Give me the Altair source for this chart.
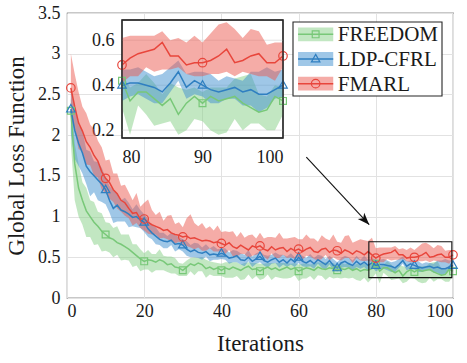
import altair as alt
import pandas as pd

# ---------------- data ----------------
iters = list(range(1, 101))
series = ["FREEDOM", "LDP-CFRL", "FMARL"]

fmarl_mean = [2.58, 2.35, 2.15, 2.05, 1.92, 1.85, 1.75, 1.68, 1.55, 1.47,
              1.42, 1.33, 1.28, 1.20, 1.17, 1.10, 1.04, 1.05, 0.97, 0.97,
              0.93, 0.90, 0.88, 0.86, 0.83, 0.84, 0.80, 0.78, 0.77, 0.75,
              0.76, 0.73, 0.74, 0.72, 0.70, 0.71, 0.70, 0.68, 0.69, 0.67,
              0.65, 0.68, 0.63, 0.61, 0.65, 0.62, 0.59, 0.64, 0.62, 0.64,
              0.60, 0.58, 0.63, 0.59, 0.61, 0.62, 0.57, 0.61, 0.58, 0.60,
              0.57, 0.60, 0.62, 0.57, 0.56, 0.60, 0.61, 0.56, 0.59, 0.58,
              0.55, 0.59, 0.57, 0.54, 0.58, 0.56, 0.53, 0.57, 0.53, 0.49,
              0.52, 0.54, 0.55, 0.56, 0.59, 0.53, 0.53, 0.49, 0.50, 0.50,
              0.51, 0.53, 0.56, 0.50, 0.51, 0.53, 0.54, 0.50, 0.50, 0.53]
fmarl_up = [0.42, 0.40, 0.38, 0.30, 0.35, 0.28, 0.32, 0.25, 0.30, 0.22,
            0.28, 0.20, 0.25, 0.18, 0.22, 0.20, 0.16, 0.24, 0.15, 0.20,
            0.28, 0.18, 0.14, 0.20, 0.12, 0.17, 0.22, 0.13, 0.16, 0.12,
            0.22, 0.30, 0.18, 0.16, 0.22, 0.14, 0.18, 0.15, 0.20, 0.14,
            0.17, 0.13, 0.19, 0.14, 0.16, 0.12, 0.18, 0.14, 0.11, 0.16,
            0.13, 0.17, 0.12, 0.15, 0.19, 0.11, 0.16, 0.13, 0.17, 0.12,
            0.15, 0.18, 0.11, 0.16, 0.13, 0.17, 0.12, 0.15, 0.19, 0.11,
            0.13, 0.17, 0.20, 0.14, 0.12, 0.16, 0.18, 0.13, 0.21, 0.12,
            0.10, 0.08, 0.07, 0.06, 0.05, 0.07, 0.08, 0.10, 0.12, 0.09,
            0.12, 0.14, 0.12, 0.15, 0.10, 0.12, 0.10, 0.08, 0.09, 0.06]
fmarl_dn = [0.35, 0.30, 0.32, 0.25, 0.28, 0.22, 0.25, 0.20, 0.22, 0.18,
            0.20, 0.15, 0.18, 0.14, 0.16, 0.12, 0.15, 0.13, 0.11, 0.14,
            0.14, 0.12, 0.10, 0.13, 0.09, 0.12, 0.10, 0.11, 0.08, 0.10,
            0.12, 0.11, 0.14, 0.10, 0.12, 0.13, 0.09, 0.11, 0.12, 0.10,
            0.11, 0.09, 0.12, 0.10, 0.11, 0.08, 0.10, 0.12, 0.09, 0.10,
            0.09, 0.11, 0.08, 0.10, 0.12, 0.09, 0.08, 0.11, 0.10, 0.09,
            0.10, 0.08, 0.11, 0.09, 0.10, 0.12, 0.08, 0.10, 0.09, 0.11,
            0.09, 0.10, 0.08, 0.11, 0.09, 0.10, 0.08, 0.11, 0.09, 0.08,
            0.08, 0.10, 0.07, 0.10, 0.12, 0.06, 0.05, 0.04, 0.06, 0.06,
            0.06, 0.08, 0.10, 0.06, 0.05, 0.08, 0.10, 0.06, 0.08, 0.05]

ldp_mean = [2.32, 2.06, 1.90, 1.78, 1.62, 1.55, 1.50, 1.45, 1.40, 1.33,
            1.20, 1.10, 1.14, 1.08, 1.06, 1.03, 0.99, 1.00, 0.96, 0.93,
            0.85, 0.80, 0.76, 0.72, 0.70, 0.69, 0.71, 0.66, 0.67, 0.65,
            0.60, 0.57, 0.59, 0.56, 0.55, 0.57, 0.53, 0.54, 0.53, 0.55,
            0.53, 0.49, 0.50, 0.52, 0.47, 0.46, 0.50, 0.45, 0.48, 0.51,
            0.46, 0.44, 0.47, 0.49, 0.44, 0.47, 0.43, 0.48, 0.44, 0.50,
            0.45, 0.43, 0.46, 0.42, 0.47, 0.44, 0.41, 0.46, 0.40, 0.37,
            0.43, 0.45, 0.42, 0.40, 0.45, 0.41, 0.44, 0.40, 0.43, 0.40,
            0.41, 0.41, 0.40, 0.39, 0.37, 0.41, 0.46, 0.39, 0.42, 0.40,
            0.38, 0.37, 0.38, 0.39, 0.37, 0.38, 0.36, 0.36, 0.38, 0.40]
ldp_up = [0.25, 0.30, 0.22, 0.28, 0.20, 0.25, 0.18, 0.22, 0.20, 0.15,
          0.18, 0.22, 0.15, 0.12, 0.17, 0.14, 0.10, 0.15, 0.12, 0.10,
          0.12, 0.09, 0.11, 0.08, 0.10, 0.07, 0.09, 0.11, 0.08, 0.07,
          0.10, 0.08, 0.09, 0.11, 0.07, 0.09, 0.08, 0.10, 0.07, 0.06,
          0.08, 0.07, 0.09, 0.06, 0.08, 0.07, 0.09, 0.06, 0.07, 0.06,
          0.07, 0.08, 0.06, 0.07, 0.09, 0.06, 0.08, 0.07, 0.06, 0.05,
          0.07, 0.06, 0.08, 0.07, 0.06, 0.08, 0.07, 0.06, 0.08, 0.07,
          0.06, 0.07, 0.08, 0.06, 0.07, 0.06, 0.08, 0.07, 0.06, 0.07,
          0.06, 0.07, 0.06, 0.05, 0.08, 0.07, 0.05, 0.06, 0.04, 0.06,
          0.07, 0.05, 0.06, 0.04, 0.05, 0.08, 0.10, 0.12, 0.08, 0.07]
ldp_dn = [0.30, 0.35, 0.28, 0.25, 0.22, 0.30, 0.20, 0.25, 0.22, 0.18,
          0.15, 0.18, 0.20, 0.14, 0.12, 0.16, 0.11, 0.13, 0.10, 0.12,
          0.10, 0.08, 0.10, 0.07, 0.09, 0.08, 0.06, 0.09, 0.07, 0.08,
          0.08, 0.07, 0.09, 0.07, 0.08, 0.06, 0.08, 0.07, 0.06, 0.07,
          0.06, 0.07, 0.06, 0.08, 0.06, 0.07, 0.05, 0.07, 0.06, 0.07,
          0.06, 0.07, 0.05, 0.06, 0.07, 0.06, 0.05, 0.07, 0.06, 0.07,
          0.06, 0.05, 0.07, 0.06, 0.05, 0.07, 0.06, 0.05, 0.06, 0.04,
          0.06, 0.07, 0.05, 0.06, 0.07, 0.05, 0.06, 0.07, 0.05, 0.07,
          0.06, 0.05, 0.06, 0.07, 0.05, 0.04, 0.04, 0.05, 0.06, 0.05,
          0.06, 0.05, 0.04, 0.05, 0.06, 0.07, 0.08, 0.06, 0.04, 0.05]

freedom_mean = [2.30, 1.65, 1.35, 1.20, 1.07, 1.00, 0.93, 0.88, 0.82, 0.78,
                0.74, 0.72, 0.68, 0.66, 0.63, 0.60, 0.56, 0.52, 0.48, 0.45,
                0.47, 0.46, 0.44, 0.47, 0.45, 0.41, 0.42, 0.38, 0.37, 0.34,
                0.38, 0.42, 0.40, 0.43, 0.41, 0.36, 0.38, 0.35, 0.37, 0.34,
                0.37, 0.35, 0.38, 0.36, 0.34, 0.37, 0.39, 0.35, 0.36, 0.33,
                0.36, 0.38, 0.35, 0.37, 0.34, 0.36, 0.38, 0.35, 0.37, 0.33,
                0.35, 0.37, 0.36, 0.34, 0.38, 0.36, 0.35, 0.37, 0.36, 0.34,
                0.36, 0.35, 0.37, 0.34, 0.36, 0.33, 0.35, 0.34, 0.36, 0.42,
                0.33, 0.37, 0.37, 0.34, 0.31, 0.34, 0.27, 0.32, 0.35, 0.32,
                0.35, 0.33, 0.34, 0.35, 0.32, 0.30, 0.28, 0.29, 0.35, 0.33]
freedom_up = [0.15, 0.25, 0.30, 0.22, 0.28, 0.20, 0.25, 0.18, 0.22, 0.15,
              0.18, 0.14, 0.20, 0.12, 0.15, 0.18, 0.10, 0.14, 0.12, 0.10,
              0.12, 0.08, 0.10, 0.13, 0.07, 0.10, 0.09, 0.11, 0.06, 0.08,
              0.08, 0.07, 0.10, 0.06, 0.09, 0.11, 0.07, 0.09, 0.06, 0.08,
              0.07, 0.09, 0.06, 0.08, 0.07, 0.06, 0.05, 0.08, 0.07, 0.09,
              0.06, 0.05, 0.08, 0.06, 0.09, 0.07, 0.05, 0.07, 0.06, 0.08,
              0.07, 0.06, 0.05, 0.08, 0.06, 0.07, 0.09, 0.06, 0.07, 0.06,
              0.08, 0.06, 0.07, 0.05, 0.06, 0.08, 0.07, 0.06, 0.07, 0.03,
              0.06, 0.04, 0.08, 0.07, 0.05, 0.07, 0.12, 0.06, 0.04, 0.05,
              0.04, 0.06, 0.05, 0.08, 0.12, 0.15, 0.08, 0.06, 0.05, 0.06]
freedom_dn = [0.40, 0.45, 0.35, 0.30, 0.32, 0.25, 0.28, 0.22, 0.25, 0.20,
              0.18, 0.22, 0.15, 0.20, 0.16, 0.14, 0.18, 0.12, 0.15, 0.10,
              0.12, 0.15, 0.10, 0.13, 0.11, 0.09, 0.12, 0.08, 0.10, 0.07,
              0.11, 0.09, 0.12, 0.10, 0.08, 0.11, 0.09, 0.08, 0.10, 0.07,
              0.12, 0.10, 0.13, 0.09, 0.12, 0.14, 0.10, 0.12, 0.09, 0.11,
              0.12, 0.09, 0.13, 0.11, 0.09, 0.12, 0.14, 0.10, 0.09, 0.12,
              0.11, 0.13, 0.09, 0.12, 0.10, 0.09, 0.13, 0.11, 0.12, 0.09,
              0.12, 0.10, 0.13, 0.09, 0.14, 0.12, 0.10, 0.15, 0.12, 0.12,
              0.15, 0.06, 0.10, 0.12, 0.08, 0.10, 0.09, 0.12, 0.10, 0.08,
              0.15, 0.15, 0.15, 0.10, 0.12, 0.07, 0.05, 0.09, 0.15, 0.06]

marker_iters = [1, 10, 20, 30, 40, 50, 60, 70, 80, 90, 100]

# annotation values (data coordinates)
zoom_box_x = [78.2, 99.7]
zoom_box_y = [0.25, 0.69]
arrow_x = [62.0, 78.3]
arrow_y = [1.73, 0.90]
inset_x_domain = [80, 100]
inset_y_domain = [0.165, 0.69]
inset_x_ticks = [80, 90, 100]
inset_y_ticks = [0.2, 0.4, 0.6]

# ---------------- styles ----------------
line_colors = ["#78c878", "#2f7fc1", "#e8463c"]
band_colors = ["#86cf86", "#3f8fd0", "#ec5a50"]
shape_paths = [
    "M-0.2,-0.2H0.2V0.2H-0.2Z",
    "M0,-0.27L0.25,0.17H-0.25Z",
    "M0.25,0A0.25,0.25 0 1,1 -0.25,0A0.25,0.25 0 1,1 0.25,0Z",
]
FONT = "Liberation Serif"
TXT = "#1a1a1a"
GRID = "#e2e2e2"
FRAME = "#262626"

rows = []
for name, m, up, dn in [("FREEDOM", freedom_mean, freedom_up, freedom_dn),
                        ("LDP-CFRL", ldp_mean, ldp_up, ldp_dn),
                        ("FMARL", fmarl_mean, fmarl_up, fmarl_dn)]:
    for i, v, u, d in zip(iters, m, up, dn):
        rows.append({"it": i, "mean": v, "lo": round(v - d, 3), "hi": round(v + u, 3),
                     "m_band": name, "m_line": name, "m_pt": name})
df = pd.DataFrame(rows)
inset_df = df[df["it"] >= inset_x_domain[0]]

fill_enc = alt.Fill("m_band:N", scale=alt.Scale(domain=series, range=band_colors), legend=None)
stroke_enc = alt.Stroke("m_line:N", scale=alt.Scale(domain=series, range=line_colors), legend=None)
color_enc = alt.Color("m_pt:N", scale=alt.Scale(domain=series, range=line_colors), legend=None)
shape_enc = alt.Shape("m_pt:N", scale=alt.Scale(domain=series, range=shape_paths), legend=None)

# ---------------- main axes ----------------
mx_scale = alt.Scale(domain=[0, 100], nice=False)
my_scale = alt.Scale(domain=[0, 3.5], nice=False, zero=False)
mx_axis = alt.Axis(orient="bottom", values=[0, 20, 40, 60, 80, 100], grid=True, gridColor=GRID,
                   ticks=False, domain=False, title="Iterations", titleFont=FONT,
                   titleFontSize=23, titleFontWeight="normal", titleColor=TXT,
                   labelFont=FONT, labelFontSize=18, labelColor=TXT, labelPadding=4,
                   titlePadding=12)
my_axis = alt.Axis(orient="left", values=[0, 0.5, 1, 1.5, 2, 2.5, 3, 3.5], grid=True,
                   gridColor=GRID, ticks=False, domain=False, format="~g",
                   title="Global Loss Function", titleFont=FONT, titleFontSize=23,
                   titleFontWeight="normal", titleColor=TXT, labelFont=FONT,
                   labelFontSize=18, labelColor=TXT, labelPadding=7, titlePadding=9)

mX = alt.X("it:Q", scale=mx_scale, axis=mx_axis)

m_band = alt.Chart(df).mark_area(opacity=0.5).encode(
    x=mX, y=alt.Y("lo:Q", scale=my_scale, axis=my_axis), y2="hi:Q", fill=fill_enc)
m_line = alt.Chart(df).mark_line(strokeWidth=1.5).encode(
    x=mX, y=alt.Y("mean:Q", scale=my_scale, axis=my_axis), stroke=stroke_enc)
m_pts = alt.Chart(df).transform_filter(
    alt.FieldOneOfPredicate(field="it", oneOf=marker_iters)
).mark_point(filled=False, size=1156, strokeWidth=1.2, opacity=1).encode(
    x=mX, y=alt.Y("mean:Q", scale=my_scale, axis=my_axis), color=color_enc, shape=shape_enc)

box_df = pd.DataFrame({"x": [zoom_box_x[0]], "x2": [zoom_box_x[1]],
                       "y": [zoom_box_y[0]], "y2": [zoom_box_y[1]]})
m_box = alt.Chart(box_df).mark_rect(fillOpacity=0, stroke="#111111", strokeWidth=1.1).encode(
    x=alt.X("x:Q", scale=mx_scale, axis=mx_axis), x2="x2:Q",
    y=alt.Y("y:Q", scale=my_scale, axis=my_axis), y2="y2:Q")

arr_df = pd.DataFrame({"x": [arrow_x[0]], "x2": [arrow_x[1]], "y": [arrow_y[0]], "y2": [arrow_y[1]]})
m_arrow = alt.Chart(arr_df).mark_rule(color="#111111", strokeWidth=1.1).encode(
    x=alt.X("x:Q", scale=mx_scale, axis=mx_axis), x2="x2:Q",
    y=alt.Y("y:Q", scale=my_scale, axis=my_axis), y2="y2:Q")
head_df = pd.DataFrame({"x": [arrow_x[1]], "y": [arrow_y[1]]})
m_head = alt.Chart(head_df).mark_point(
    shape="M0,0L-0.55,1.5L0,1.1L0.55,1.5Z", filled=True, color="#111111",
    size=260, angle=137, opacity=1).encode(
    x=alt.X("x:Q", scale=mx_scale, axis=mx_axis),
    y=alt.Y("y:Q", scale=my_scale, axis=my_axis))

main = alt.layer(m_band, m_line, m_pts, m_box, m_arrow, m_head)

# ---------------- inset ----------------
ix_scale = alt.Scale(domain=inset_x_domain, range=[55, 216], nice=False)
iy_scale = alt.Scale(domain=inset_y_domain, range=[125, 7], nice=False, zero=False, clamp=True)
ix_axis = alt.Axis(orient="bottom", offset=-160, values=inset_x_ticks, grid=False, ticks=False,
                   domain=False, title=None, labelFont=FONT, labelFontSize=18,
                   labelColor=TXT, labelPadding=10)
iy_axis = alt.Axis(orient="left", offset=-55, values=inset_y_ticks, grid=False, ticks=False,
                   domain=False, title=None, labelFont=FONT, labelFontSize=18,
                   labelColor=TXT, labelPadding=8, format=".1f")
iX = alt.X("it:Q", scale=ix_scale, axis=ix_axis)

ibg_df = pd.DataFrame({"x": [inset_x_domain[0]], "x2": [inset_x_domain[1]],
                       "y": [inset_y_domain[0]], "y2": [inset_y_domain[1]]})
i_bg = alt.Chart(ibg_df).mark_rect(fill="white", stroke=FRAME, strokeWidth=1.1).encode(
    x=alt.X("x:Q", scale=ix_scale, axis=ix_axis), x2="x2:Q",
    y=alt.Y("y:Q", scale=iy_scale, axis=iy_axis), y2="y2:Q")
igx_df = pd.DataFrame({"x": inset_x_ticks[1:-1]})
i_gx = alt.Chart(igx_df).mark_rule(color=GRID).encode(
    x=alt.X("x:Q", scale=ix_scale, axis=ix_axis),
    y=alt.datum(inset_y_domain[0], scale=iy_scale), y2=alt.datum(inset_y_domain[1]))
igy_df = pd.DataFrame({"y": inset_y_ticks})
i_gy = alt.Chart(igy_df).mark_rule(color=GRID).encode(
    y=alt.Y("y:Q", scale=iy_scale, axis=iy_axis),
    x=alt.datum(inset_x_domain[0], scale=ix_scale), x2=alt.datum(inset_x_domain[1]))
i_band = alt.Chart(inset_df).mark_area(opacity=0.5).encode(
    x=iX, y=alt.Y("lo:Q", scale=iy_scale, axis=iy_axis), y2="hi:Q", fill=fill_enc)
i_line = alt.Chart(inset_df).mark_line(strokeWidth=1.5).encode(
    x=iX, y=alt.Y("mean:Q", scale=iy_scale, axis=iy_axis), stroke=stroke_enc)
i_pts = alt.Chart(inset_df).transform_filter(
    alt.FieldOneOfPredicate(field="it", oneOf=marker_iters)
).mark_point(filled=False, size=1156, strokeWidth=1.2, opacity=1).encode(
    x=iX, y=alt.Y("mean:Q", scale=iy_scale, axis=iy_axis), color=color_enc, shape=shape_enc)
i_frame = alt.Chart(ibg_df).mark_rect(fillOpacity=0, stroke=FRAME, strokeWidth=1.3).encode(
    x=alt.X("x:Q", scale=ix_scale, axis=ix_axis), x2="x2:Q",
    y=alt.Y("y:Q", scale=iy_scale, axis=iy_axis), y2="y2:Q")

inset = alt.layer(i_bg, i_gx, i_gy, i_band, i_line, i_pts, i_frame)

# ---------------- legend (drawn from the series list through its own scales) ----------------
leg_df = pd.DataFrame({"name": series, "row": list(range(len(series))),
                       "m_band": series, "m_line": series, "m_pt": series})
lx_scale = alt.Scale(domain=[0, 1], range=[226, 375], nice=False, zero=False)
ly_scale = alt.Scale(domain=[0, 3], range=[9, 83], nice=False, zero=False)
SW0, SW1, TX = 0.034, 0.27, 0.30      # swatch start/end, label start (fractions of legend width)
leg_base = alt.Chart(leg_df).transform_calculate(
    yc="datum.row + 0.5", ylo="datum.row + 0.22", yhi="datum.row + 0.78",
    xs=str(SW0), xe=str(SW1), xm=str((SW0 + SW1) / 2), xt=str(TX))
l_box = alt.Chart(pd.DataFrame({"x": [0], "x2": [1], "y": [0], "y2": [3]})).mark_rect(
    fill="white", stroke=FRAME, strokeWidth=1.1).encode(
    x=alt.X("x:Q", scale=lx_scale, axis=None), x2="x2:Q",
    y=alt.Y("y:Q", scale=ly_scale, axis=None), y2="y2:Q")
l_sw = leg_base.mark_rect(opacity=0.5).encode(
    x=alt.X("xs:Q", scale=lx_scale, axis=None), x2="xe:Q",
    y=alt.Y("ylo:Q", scale=ly_scale, axis=None), y2="yhi:Q", fill=fill_enc)
l_ln = leg_base.mark_rule(strokeWidth=1.5).encode(
    x=alt.X("xs:Q", scale=lx_scale, axis=None), x2="xe:Q",
    y=alt.Y("yc:Q", scale=ly_scale, axis=None), stroke=stroke_enc)
l_pt = leg_base.mark_point(filled=False, size=1156, strokeWidth=1.2, opacity=1).encode(
    x=alt.X("xm:Q", scale=lx_scale, axis=None),
    y=alt.Y("yc:Q", scale=ly_scale, axis=None), color=color_enc, shape=shape_enc)
l_tx = leg_base.mark_text(align="left", baseline="middle", font=FONT, fontSize=21,
                          color=TXT, dy=1).encode(
    x=alt.X("xt:Q", scale=lx_scale, axis=None),
    y=alt.Y("yc:Q", scale=ly_scale, axis=None), text="name:N")
legend = alt.layer(l_box, l_sw, l_ln, l_pt, l_tx)

chart = alt.layer(main, inset, legend).resolve_scale(
    x="independent", y="independent"
).properties(
    width=386, height=285,
    autosize=alt.AutoSizeParams(type="none"),
    padding={"left": 67, "top": 13, "right": 14, "bottom": 65},
    background="white",
).configure(font=FONT).configure_axis(
    labelFont=FONT, titleFont=FONT, labelColor=TXT, titleColor=TXT
).configure_view(stroke=FRAME, strokeWidth=1.1)

chart.save("out.html", embed_options={"renderer": "svg", "actions": False})
